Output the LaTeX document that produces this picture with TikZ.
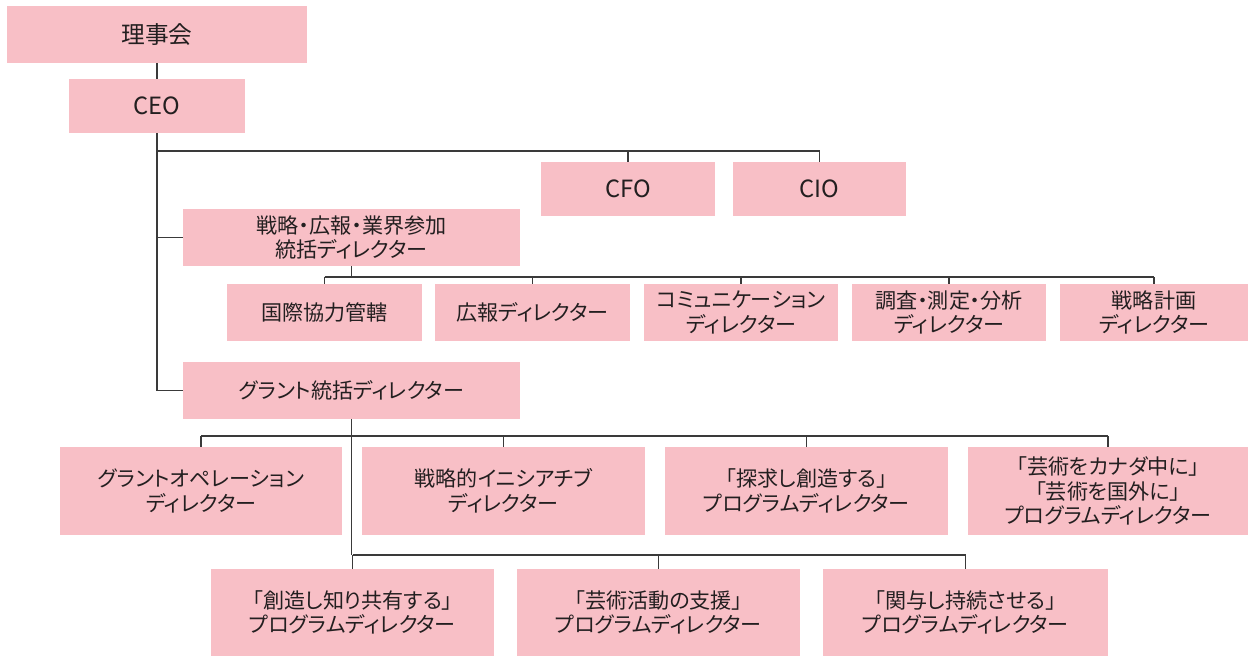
\documentclass[tikz,border=0pt]{standalone}
\usepackage{fontspec}
\setmainfont{Noto Sans CJK JP}[RawFeature=+palt]
\usepackage{tikz}
\usetikzlibrary{positioning}
\definecolor{boxpink}{HTML}{F8BFC6}
\definecolor{inkgray}{HTML}{231F20}
\definecolor{wiregray}{HTML}{3A3A3A}

\begin{document}
\begin{tikzpicture}[x=0.02cm,y=0.02cm]
\tikzstyle{every node}+=[inner sep=0pt]
\tikzstyle{box}=[fill=boxpink, text=inkgray, align=center, font=\fontsize{12pt}{14pt}\selectfont]
\tikzstyle{topbox}=[box, font=\fontsize{13.5pt}{16pt}\selectfont]
\tikzstyle{wire}=[draw=wiregray, line width=0.85pt]
\useasboundingbox (0,0) rectangle (1249,-657);
\node [topbox, minimum width=6cm, minimum height=1.14cm] (board) at (157,-34.5) {理事会};
\node [topbox, minimum width=3.52cm, minimum height=1.08cm] (ceo) at (157,-106) {CEO};
\node [topbox, minimum width=3.48cm, minimum height=1.08cm] (cfo) at (628,-189) {CFO};
\node [topbox, minimum width=3.46cm, minimum height=1.08cm] (cio) at (819.5,-189) {CIO};
\node [box, minimum width=6.74cm, minimum height=1.14cm] (strat) at (351.5,-237.5) {戦略・広報・業界参加\\統括ディレクター};
\node [box, minimum width=3.9cm, minimum height=1.14cm] (intl) at (324.5,-312.5) {国際協力管轄};
\node [box, minimum width=3.9cm, minimum height=1.14cm] (pr) at (532.5,-312.5) {広報ディレクター};
\node [box, minimum width=3.88cm, minimum height=1.14cm] (comm) at (741,-312.5) {コミュニケーション\\ディレクター};
\node [box, minimum width=3.88cm, minimum height=1.14cm] (survey) at (949,-312.5) {調査・測定・分析\\ディレクター};
\node [box, minimum width=3.76cm, minimum height=1.14cm] (plan) at (1154,-312.5) {戦略計画\\ディレクター};
\node [box, minimum width=6.74cm, minimum height=1.14cm] (grant) at (351.5,-390.5) {グラント統括ディレクター};
\node [box, minimum width=5.64cm, minimum height=1.76cm] (ops) at (201,-491) {グラントオペレーション\\ディレクター};
\node [box, minimum width=5.66cm, minimum height=1.76cm] (init) at (503.5,-491) {戦略的イニシアチブ\\ディレクター};
\node [box, minimum width=5.66cm, minimum height=1.76cm] (explore) at (806.5,-491) {「探求し創造する」\\プログラムディレクター};
\node [box, minimum width=5.6cm, minimum height=1.76cm] (abroad) at (1108,-491) {「芸術をカナダ中に」\\「芸術を国外に」\\プログラムディレクター};
\node [box, minimum width=5.66cm, minimum height=1.74cm] (share) at (352.5,-612.5) {「創造し知り共有する」\\プログラムディレクター};
\node [box, minimum width=5.66cm, minimum height=1.74cm] (support) at (658.5,-612.5) {「芸術活動の支援」\\プログラムディレクター};
\node [box, minimum width=5.7cm, minimum height=1.74cm] (engage) at (965.5,-612.5) {「関与し持続させる」\\プログラムディレクター};
\coordinate (ceobar) at (0,-151);
\coordinate (stratbar) at (0,-277);
\coordinate (grantbar) at (0,-436);
\coordinate (lowbar) at (0,-555);
\draw [wire] (board.south) -- (ceo.north);
\draw [wire] (ceo.south) -- (ceo.south |- grant.west) -- (grant.west);
\draw [wire] (ceo.south |- strat.west) -- (strat.west);
\draw [wire] (ceo.south |- ceobar) -| (cio.north);
\draw [wire] (cfo.north |- ceobar) -- (cfo.north);
\draw [wire] (strat.south) -- (strat.south |- stratbar);
\draw [wire] (intl.north |- stratbar) -- (plan.north |- stratbar);
\foreach \n in {intl,pr,comm,survey,plan}
  \draw [wire] (\n.north |- stratbar) -- (\n.north);
\draw [wire] (grant.south) -- (grant.south |- lowbar);
\draw [wire] (ops.north |- grantbar) -- (abroad.north |- grantbar);
\foreach \n in {ops,init,explore,abroad}
  \draw [wire] (\n.north |- grantbar) -- (\n.north);
\draw [wire] (share.north |- lowbar) -- (engage.north |- lowbar);
\foreach \n in {share,support,engage}
  \draw [wire] (\n.north |- lowbar) -- (\n.north);
\end{tikzpicture}
\end{document}
